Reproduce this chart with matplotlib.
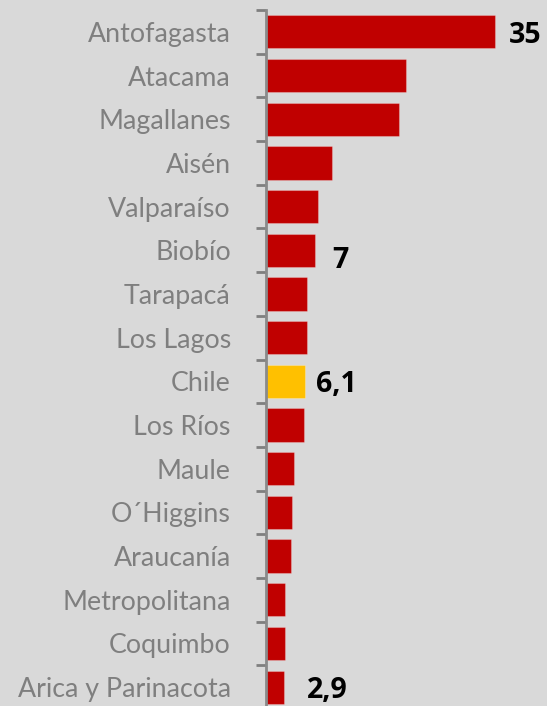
import matplotlib
matplotlib.use("Agg")
import matplotlib.pyplot as plt

regions = ["Antofagasta", "Atacama", "Magallanes", "Aisén", "Valparaíso", "Biobío",
           "Tarapacá", "Los Lagos", "Chile", "Los Ríos", "Maule", "O´Higgins",
           "Araucanía", "Metropolitana", "Coquimbo", "Arica y Parinacota"]
values = [35, 21.5, 20.4, 10.1, 8.0, 7.5, 6.4, 6.35, 6.1, 5.9, 4.4, 4.0, 3.9, 3.05, 3.0, 2.9]
# etiquetas visibles solo en algunas barras
shown = {"Antofagasta": "35", "Biobío": "7", "Chile": "6,1", "Arica y Parinacota": "2,9"}

bg = "#d9d9d9"
red = "#c00000"
gold = "#ffc000"

fig = plt.figure(figsize=(5.47, 7.06), dpi=100, facecolor=bg)
ax = fig.add_axes([265.5 / 547, -3 / 706, 281.5 / 547, 699 / 706], facecolor=bg)

y = list(range(len(regions)))
colors = [gold if r == "Chile" else red for r in regions]
ax.barh(y, values, height=0.76, color=colors, edgecolor=[(1, 1, 1, 0.25)], linewidth=0.8)

ax.set_ylim(len(regions) - 0.5, -0.5)
ax.set_xlim(0, 281.5 / 6.55)

ax.set_yticks([i + 0.5 for i in range(-1, len(regions))])
ax.set_yticklabels([])
ax.set_yticks(y, minor=True)
ax.set_yticklabels(regions, minor=True, fontsize=19.3, color="#7f7f7f", family="Lato")
ax.tick_params(axis="y", which="major", length=7, width=2, color="#7f7f7f", direction="out")
ax.tick_params(axis="y", which="minor", length=0, pad=25)
ax.set_xticks([])

for s in ["top", "right", "bottom"]:
    ax.spines[s].set_visible(False)
ax.spines["left"].set_color("#8a8a8a")
ax.spines["left"].set_linewidth(2)

offsets = {"Antofagasta": 10.5, "Biobío": 12.5, "Chile": 7.5, "Arica y Parinacota": 16}
dy = {"Antofagasta": 0, "Biobío": -4.5, "Chile": 0, "Arica y Parinacota": 0}
for i, r in enumerate(regions):
    if r in shown:
        ax.annotate(shown[r], (values[i], i), xytext=(offsets[r], dy[r]), textcoords="offset points",
                    va="center_baseline", ha="left", fontsize=20.5, fontweight="bold", color="black",
                    family="Open Sans")

fig.savefig("out.png", dpi=100, facecolor=bg)
